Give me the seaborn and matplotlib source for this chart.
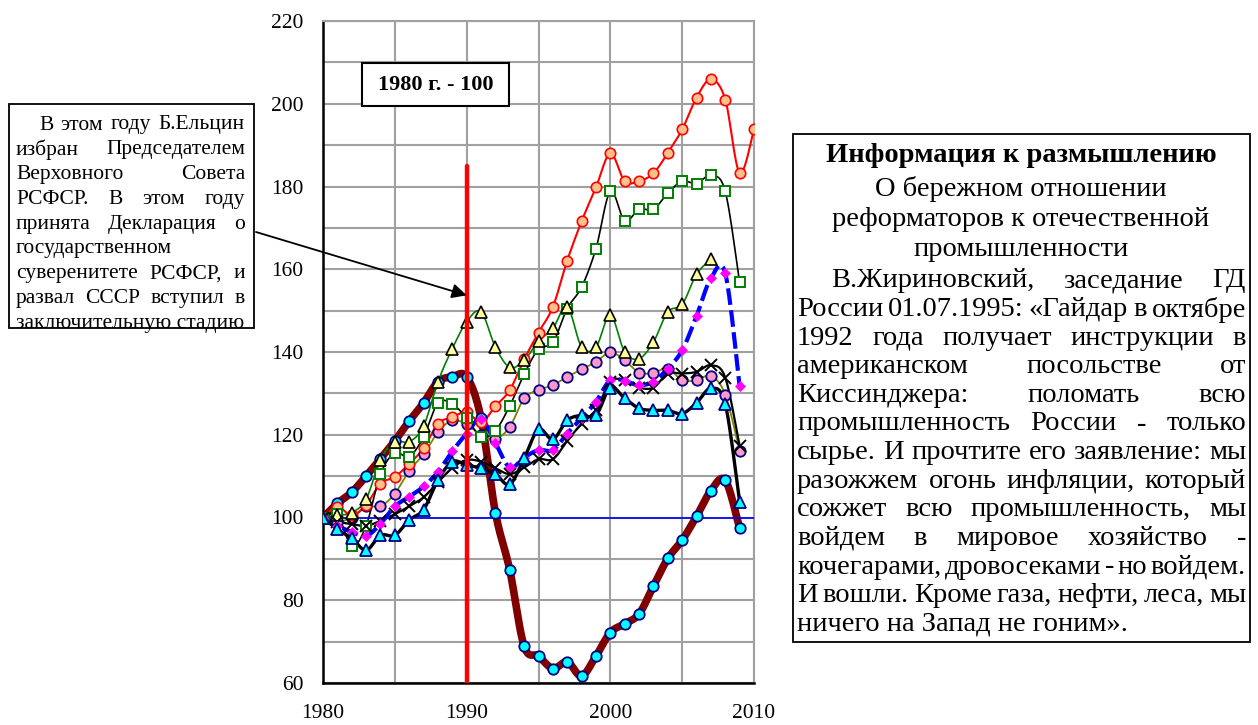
import numpy as np
import matplotlib
matplotlib.use("Agg")
import matplotlib.pyplot as plt
import matplotlib.patches as mpatches
from matplotlib.ticker import MultipleLocator
import seaborn as sns

# data, 1980 = 100
years = list(range(1980, 2010))
years_red = list(range(1980, 2011))
years_tri = list(range(1980, 2008))

red_circles = [100, 102.6, 100.5, 103, 108.2, 109.8, 113, 116.7, 122.7, 124.2,
               125.5, 123, 126.9, 130.8, 138.2, 144.7, 150.9, 162.1, 171.6, 179.8,
               188, 181.3, 181.3, 183.2, 188.1, 193.8, 201.5, 205.9, 201, 183.3, 193.8]
green_squares = [100, 100.8, 93.1, 98, 110.5, 115.6, 114.7, 119.5, 127.7, 127.4,
                 124, 119.5, 121, 127, 134.6, 140.7, 142.3, 150.5, 155.7, 165,
                 178.8, 171.7, 174.5, 174.5, 178.4, 181.3, 180.7, 182.7, 178.8, 156.8]
yellow_tri = [100, 100.5, 101.2, 104.4, 114, 118.3, 118.3, 122.1, 132.8, 140.8,
              147.3, 149.7, 141.2, 136.3, 138, 142.6, 145.7, 150.9, 141.2, 141.2,
              148.9, 140, 138.4, 142.4, 149.7, 151.5, 158.8, 162.4]
pink_circles = [100, 99, 100, 102.7, 102.7, 105.8, 111.3, 115.3, 120.6, 123.5,
                122.5, 120, 119, 121.9, 128.8, 130.8, 132, 134, 135.8, 137.6,
                139.9, 138, 135, 135, 136, 133.2, 133.2, 134.2, 129.7, 116]
magenta_diam = [100, 98, 96.5, 95.5, 98.5, 102.7, 105, 107.5, 111, 116,
                120.3, 123.8, 118, 112.1, 114.5, 116.3, 116.3, 120.3, 124, 128,
                133.2, 133, 132, 132.8, 136, 140.4, 148.7, 157.8, 159, 131.7]
black_x = [100, 99, 98.4, 98, 99.2, 100.8, 102.7, 104.9, 108.5, 112,
           113.9, 113.5, 111.9, 110.5, 112.1, 114.1, 114.1, 118.5, 122.7, 126,
           132.8, 133.2, 131.4, 131.4, 134.8, 134.8, 135.2, 136.8, 133.8, 117.3]
cyan_tri = [100, 97.1, 95, 92.1, 95.7, 95.7, 99.4, 101.9, 109, 113.5,
            112.7, 111.9, 110.5, 108, 114.3, 121.3, 118.9, 123.5, 124.7, 124.7,
            131.4, 128.8, 126.4, 125.9, 125.9, 125.1, 127.7, 131.2, 127.4, 103.8]
maroon_circles = [100, 103.4, 106.1, 110, 114.2, 118.5, 123.3, 127.7, 132.8, 134,
                  134, 124, 101.2, 87.3, 68.9, 66.5, 63.5, 65.1, 61.7, 66.5,
                  72.2, 74.3, 76.7, 83.4, 90.1, 94.5, 100.3, 106.5, 109, 97.4]

base_label = "1980 г. - 100"
left_lines = ["В этом году Б.Ельцин", "избран Председателем", "Верховного Совета",
              "РСФСР.  В этом году", "принята Декларация о", "государственном",
              "суверенитете РСФСР, и", "развал СССР вступил в", "заключительную стадию"]
right_head = "Информация к размышлению"
right_sub = ["О бережном отношении", "реформаторов к отечественной", "промышленности"]
right_lines = ["В.Жириновский, заседание ГД",
               "России 01.07.1995: «Гайдар в октябре",
               "1992 года получает инструкции в",
               "американском посольстве от",
               "Киссинджера: поломать всю",
               "промышленность России - только",
               "сырье. И прочтите его заявление: мы",
               "разожжем огонь инфляции, который",
               "сожжет всю промышленность, мы",
               "войдем в мировое хозяйство -",
               "кочегарами, дровосеками - но войдем.",
               "И вошли. Кроме газа, нефти, леса, мы",
               "ничего на Запад не гоним»."]

sns.set_theme(style="white")
plt.rcParams["font.family"] = ["Liberation Serif", "DejaVu Serif"]

W, H = 1258, 725
fig = plt.figure(figsize=(W / 100, H / 100), dpi=100)
ax = fig.add_axes([323 / W, 1 - 683 / H, 431 / W, 662 / H])


def smooth(xs, ys, n=12):
    # excel-like smoothed line (catmull-rom as bezier)
    x = np.asarray(xs, dtype=float)
    y = np.asarray(ys, dtype=float)
    xp = np.r_[x[0], x, x[-1]]
    yp = np.r_[y[0], y, y[-1]]
    t = np.linspace(0, 1, n, endpoint=False)[:, None]
    out = []
    for i in range(len(x) - 1):
        p0 = np.array([xp[i], yp[i]])
        p1 = np.array([xp[i + 1], yp[i + 1]])
        p2 = np.array([xp[i + 2], yp[i + 2]])
        p3 = np.array([xp[i + 3], yp[i + 3]])
        c1 = p1 + (p2 - p0) / 6
        c2 = p2 - (p3 - p1) / 6
        b = (1 - t) ** 3 * p1 + 3 * (1 - t) ** 2 * t * c1 + 3 * (1 - t) * t ** 2 * c2 + t ** 3 * p2
        out.append(b)
    out.append(np.array([[x[-1], y[-1]]]))
    out = np.vstack(out)
    return out[:, 0], out[:, 1]


def draw(xs, ys, lc, lw, marker, ms, fc, ec, mew, z, ls="-"):
    sx, sy = smooth(xs, ys)
    sns.lineplot(x=sx, y=sy, ax=ax, color=lc, linewidth=lw, linestyle=ls,
                 estimator=None, sort=False, zorder=z, legend=False)
    sns.lineplot(x=xs, y=ys, ax=ax, color=ec, linestyle="", marker=marker, markersize=ms,
                 markerfacecolor=fc, markeredgecolor=ec, markeredgewidth=mew,
                 estimator=None, sort=False, zorder=z + 10, legend=False)


draw(years, maroon_circles, "#800000", 5.5, "o", 7.5, "#00FFFF", "#000080", 1.3, 2)
draw(years, pink_circles, "#808000", 1.3, "o", 7.5, "#FF99CC", "#000080", 1.3, 3)
draw(years_red, red_circles, "#FF0000", 1.5, "o", 7.5, "#FFC08C", "#FF0000", 1.2, 4)
draw(years, green_squares, "#000000", 1.2, "s", 7, "#FFFFFF", "#008000", 1.4, 5)
draw(years_tri, yellow_tri, "#008000", 1.2, "^", 8.5, "#FFFF99", "#000000", 1.2, 6)
draw(years, black_x, "#000000", 1.6, "x", 9, "none", "#000000", 1.4, 7)
draw(years, magenta_diam, "#0000FF", 3.0, "D", 5, "#FF00FF", "#FF00FF", 0.5, 8, ls=(0, (4, 1.3)))
draw(years, cyan_tri, "#000000", 2.4, "^", 8.5, "#00FFFF", "#000080", 1.3, 9)

ax.axhline(100, color="#0000FF", linewidth=1.2, zorder=9.5)
ax.plot([1990, 1990], [60, 185], color="#FF0000", linewidth=3.2, zorder=30)

ax.set_xlim(1980, 2010)
ax.set_ylim(60, 220)
ax.xaxis.set_major_locator(MultipleLocator(10))
ax.xaxis.set_minor_locator(MultipleLocator(5))
ax.yaxis.set_major_locator(MultipleLocator(20))
ax.yaxis.set_minor_locator(MultipleLocator(10))
ax.grid(True, which="both", color="#A0A0A0", linewidth=1.5, zorder=0)
ax.set_axisbelow(True)
ax.set_xlabel("")
ax.set_ylabel("")
ax.tick_params(axis="both", which="both", direction="out", color="black",
               width=1.5, labelsize=15.5, labelcolor="black")
ax.tick_params(axis="x", which="both", length=5, pad=10)
ax.tick_params(axis="y", which="major", length=5, pad=9)
ax.tick_params(axis="y", which="minor", length=0)
for side in ["left", "bottom"]:
    ax.spines[side].set_color("black")
    ax.spines[side].set_linewidth(1.8)
for side in ["top", "right"]:
    ax.spines[side].set_color("#A0A0A0")
    ax.spines[side].set_linewidth(1.5)
ax.set_facecolor("white")

renderer = fig.canvas.get_renderer()


def fx(px):
    return px / W


def fy(py):
    return 1 - py / H


def put_line(text, x0, x1, yc, size, justify=True, weight="normal"):
    words = text.split()
    if not justify or len(words) < 2:
        fig.text(fx(x0), fy(yc), text, fontsize=size, fontweight=weight,
                 ha="left", va="center", color="black")
        return
    items = [fig.text(0, fy(yc), w, fontsize=size, fontweight=weight,
                      ha="left", va="center", color="black") for w in words]
    widths = [t.get_window_extent(renderer).width for t in items]
    gap = (x1 - x0 - sum(widths)) / (len(words) - 1)
    x = x0
    for t, w in zip(items, widths):
        t.set_x(fx(x))
        x += w + gap


def frame(x0, y0, x1, y1, lw=1.3):
    fig.patches.append(mpatches.Rectangle((fx(x0), fy(y1)), fx(x1 - x0), (y1 - y0) / H,
                                          transform=fig.transFigure, facecolor="white",
                                          edgecolor="black", linewidth=lw, zorder=1))


# "1980 = 100" label box
frame(362, 63, 509, 106, lw=1.5)
fig.text(fx(435.5), fy(85), base_label, fontsize=16, fontweight="bold",
         ha="center", va="center", color="black")

# left note
frame(9, 104, 254, 328)
for i, line in enumerate(left_lines):
    yc = 125 + i * 24.8
    x0 = 39 if i == 0 else 16
    just = i not in (5, 8)
    put_line(line, x0, 245, yc, 15.5, justify=just)

ax.annotate("", xy=(1990, 153.7), xycoords="data",
            xytext=(256, H - 232), textcoords="figure pixels",
            arrowprops=dict(arrowstyle="-|>", color="black", lw=1.3,
                            mutation_scale=22, shrinkA=0, shrinkB=0),
            zorder=40, annotation_clip=False)

# right note
frame(793, 134, 1250, 642)
fig.text(fx(1021), fy(155), right_head, fontsize=20.5, fontweight="bold",
         ha="center", va="center", color="black")
for i, line in enumerate(right_sub):
    fig.text(fx(1021), fy(189 + i * 30), line, fontsize=20.5,
             ha="center", va="center", color="black")
for i, line in enumerate(right_lines):
    yc = 281 + i * 28.6
    x0 = 831 if i == 0 else 797
    put_line(line, x0, 1246, yc, 20.5, justify=(i != len(right_lines) - 1))

fig.savefig("out.png", dpi=100, facecolor="white")
